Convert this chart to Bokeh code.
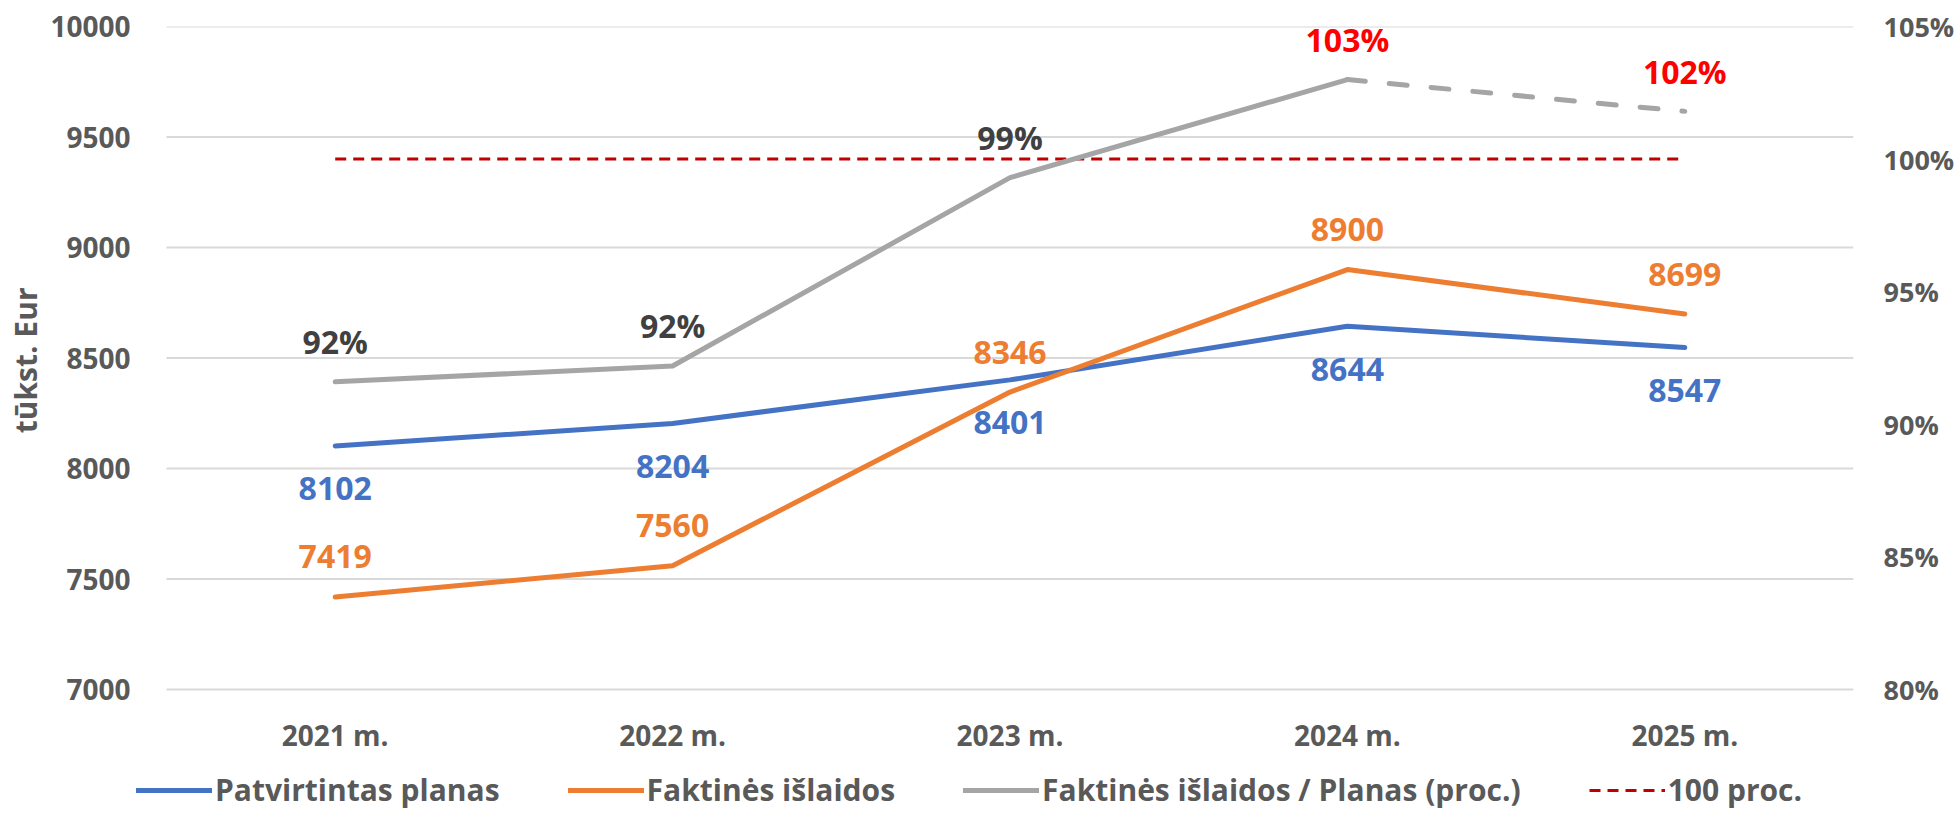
from bokeh.plotting import figure
from bokeh.models import (Range1d, LinearAxis, FixedTicker, PrintfTickFormatter,
                          ColumnDataSource, Legend, LegendItem, Title)
from bokeh.core.properties import value
from bokeh.embed import file_html
from bokeh.resources import INLINE

# ---- data ----
years = ["2021 m.", "2022 m.", "2023 m.", "2024 m.", "2025 m."]
plan = [8102, 8204, 8401, 8644, 8547]
actual = [7419, 7560, 8346, 8900, 8699]
ratio = [91.6, 92.2, 99.3, 103.0, 101.8]
ratio_labels = ["92%", "92%", "99%", "103%", "102%"]
ratio_label_colors = ["#404040", "#404040", "#404040", "#FF0000", "#FF0000"]
target = [100, 100, 100, 100, 100]
left_ticks = [7000, 7500, 8000, 8500, 9000, 9500, 10000]
right_ticks = [80, 85, 90, 95, 100, 105]
legend_labels = ["Patvirtintas planas", "Faktinės išlaidos",
                 "Faktinės išlaidos / Planas (proc.)", "100 proc."]
y_title = "tūkst. Eur"

idx = list(range(len(years)))   # category slots

FONT = "Open Sans"
BLUE = "#4472C4"
ORANGE = "#ED7D31"
GRAY = "#A5A5A5"
RED = "#C00000"
AXIS_TXT = "#595959"
TICK_SIZE = "28px"

# ---- layout (pixels) ----
TOTAL_W = 1954
TOTAL_H = 810
GRID_LEFT = 161      # where the gridded area starts
BAND = 337.4         # width of one category slot
FRAME_LEFT = 131     # frame begins a little left of the grid so the legend fits
TOP = 26
GRID_PX = 663        # pixel height of the gridded value span
FRAME_H = TOTAL_H - TOP
FRAME_W = round(GRID_LEFT - FRAME_LEFT + BAND * len(years))

x_lo = -0.5 - (GRID_LEFT - FRAME_LEFT) / BAND
x_hi = len(years) - 0.5
y_hi = left_ticks[-1]
y_lo = y_hi - (left_ticks[-1] - left_ticks[0]) * FRAME_H / GRID_PX
p_hi = right_ticks[-1]
p_lo = p_hi - (right_ticks[-1] - right_ticks[0]) * FRAME_H / GRID_PX

p = figure(x_range=Range1d(x_lo, x_hi), y_range=Range1d(y_lo, y_hi),
           frame_width=FRAME_W, frame_height=FRAME_H,
           min_border_left=FRAME_LEFT, min_border_right=TOTAL_W - FRAME_LEFT - FRAME_W,
           min_border_top=TOP, min_border_bottom=0,
           x_axis_location=None,
           output_backend="svg", toolbar_location=None)
p.extra_y_ranges = {"pct": Range1d(p_lo, p_hi)}
p.outline_line_color = None
p.grid.visible = False

# horizontal gridlines across the category slots only
p.segment(x0=[x_hi - len(years)] * len(left_ticks), x1=[x_hi] * len(left_ticks),
          y0=left_ticks, y1=left_ticks, line_color="#D9D9D9", line_width=2)

# left axis
ya = p.yaxis[0]
ya.ticker = FixedTicker(ticks=left_ticks)
ya.axis_line_color = None
ya.major_tick_line_color = None
ya.minor_tick_line_color = None
ya.major_label_standoff = 0
ya.major_label_text_font = FONT
ya.major_label_text_font_style = "bold"
ya.major_label_text_font_size = TICK_SIZE
ya.major_label_text_color = AXIS_TXT

# y-axis title, placed along the gridded span
ttl = Title(text=y_title, align="right", offset=261, standoff=4,
            text_font=FONT, text_font_style="bold", text_font_size="30px",
            text_color=AXIS_TXT)
p.add_layout(ttl, "left")

# right axis
ra = LinearAxis(y_range_name="pct", ticker=FixedTicker(ticks=right_ticks),
                formatter=PrintfTickFormatter(format="%d%%"))
ra.axis_line_color = None
ra.major_tick_line_color = None
ra.minor_tick_line_color = None
ra.major_label_standoff = 24
ra.major_label_text_font = FONT
ra.major_label_text_font_style = "bold"
ra.major_label_text_font_size = "27px"
ra.major_label_text_color = AXIS_TXT
p.add_layout(ra, "right")

# category labels under the lowest gridline
p.text(x=idx, y=[left_ticks[0]] * len(years), text=years, y_offset=45,
       text_font=value(FONT), text_font_style="bold", text_font_size=TICK_SIZE,
       text_color=AXIS_TXT, text_align="center", text_baseline="middle")

# lines
r_target = p.line(idx, target, y_range_name="pct", line_color=RED, line_width=3,
                  line_dash="11 7")
r_ratio = p.line(idx[:4], ratio[:4], y_range_name="pct", line_color=GRAY, line_width=5,
                 line_cap="round", line_join="round")
p.line(idx[3:], ratio[3:], y_range_name="pct", line_color=GRAY, line_width=5,
       line_cap="round", line_dash="18 24")
r_plan = p.line(idx, plan, line_color=BLUE, line_width=5, line_cap="round", line_join="round")
r_act = p.line(idx, actual, line_color=ORANGE, line_width=5, line_cap="round",
               line_join="round")

# data labels
lab_kw = dict(text_font=value(FONT), text_font_style="bold", text_font_size="32px",
              text_align="center", text_baseline="middle")
src_plan = ColumnDataSource(dict(x=idx, y=plan, t=[str(v) for v in plan]))
p.text(x="x", y="y", text="t", source=src_plan, y_offset=43, text_color=BLUE, **lab_kw)
src_act = ColumnDataSource(dict(x=idx, y=actual, t=[str(v) for v in actual]))
p.text(x="x", y="y", text="t", source=src_act, y_offset=-40, text_color=ORANGE, **lab_kw)
src_ratio = ColumnDataSource(dict(x=idx, y=ratio, t=ratio_labels, c=ratio_label_colors))
p.text(x="x", y="y", text="t", source=src_ratio, y_range_name="pct", y_offset=-40,
       text_color="c", **lab_kw)

# legend at the bottom of the frame
legend = Legend(items=[LegendItem(label=legend_labels[0], renderers=[r_plan]),
                       LegendItem(label=legend_labels[1], renderers=[r_act]),
                       LegendItem(label=legend_labels[2], renderers=[r_ratio]),
                       LegendItem(label=legend_labels[3], renderers=[r_target])],
                orientation="horizontal", location=(0, 0),
                label_text_font=FONT, label_text_font_style="bold",
                label_text_font_size="30px", label_text_color=AXIS_TXT,
                glyph_width=76, glyph_height=40, label_height=40, label_standoff=3,
                spacing=68, padding=0, margin=0,
                background_fill_alpha=0, border_line_color=None)
p.add_layout(legend, "center")

open("out.html", "w").write(file_html(p, INLINE))
